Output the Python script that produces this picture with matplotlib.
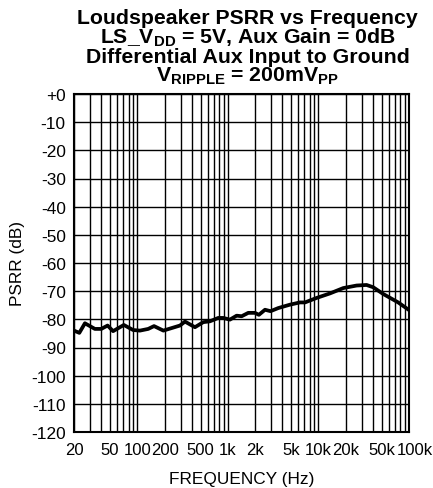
import matplotlib

matplotlib.use("Agg")
import matplotlib.pyplot as plt  # noqa: E402
import matplotlib.transforms as mtransforms  # noqa: E402
import numpy as np  # noqa: E402
from matplotlib.ticker import FixedLocator, LogLocator, NullFormatter  # noqa: E402

plt.rcParams["font.family"] = ["Liberation Sans", "DejaVu Sans"]
plt.rcParams["mathtext.fontset"] = "custom"
plt.rcParams["mathtext.rm"] = "Liberation Sans:bold"
plt.rcParams["mathtext.bf"] = "Liberation Sans:bold"
plt.rcParams["mathtext.it"] = "Liberation Sans:bold"

# curve
freq_hz = [20, 22.9, 26.4, 34, 40, 47, 54, 71, 90, 107, 132, 153, 194, 296, 336,
           433, 535, 634, 783, 890, 1054, 1250, 1420, 1680, 1990, 2200, 2570,
           2960, 3600, 4840, 6240, 7100, 9550, 13400, 18800, 26400, 34000,
           40200, 51900, 76000, 100000]
psrr_db = [-84.0, -84.8, -81.4, -83.4, -83.4, -82.2, -84.2, -82.0, -83.8, -84.0,
           -83.4, -82.4, -84.0, -82.2, -80.8, -82.8, -81.0, -80.7, -79.5, -79.5,
           -80.1, -78.7, -78.9, -77.7, -77.7, -78.4, -76.6, -77.1, -76.0, -74.8,
           -74.0, -74.0, -72.4, -70.8, -68.9, -68.0, -67.8, -68.6, -71.0, -74.0,
           -76.7]

x_ticks = [20, 50, 100, 200, 500, 1000, 2000, 5000, 10000, 20000, 50000, 100000]
x_labels = ["20", "50", "100", "200", "500", "1k", "2k", "5k", "10k", "20k", "50k", "100k"]
y_ticks = list(range(-120, 1, 10))
y_labels = ["+0" if v == 0 else str(v) for v in y_ticks]

title_lines = [
    "Loudspeaker PSRR vs Frequency",
    r"LS_V$_{\mathbf{DD}}$ = 5V, Aux Gain = 0dB",
    "Differential Aux Input to Ground",
    r"V$_{\mathbf{RIPPLE}}$ = 200mV$_{\mathbf{PP}}$",
]

fig = plt.figure(figsize=(4.33, 4.89), dpi=100)
ax = fig.add_axes([74 / 433, 1 - 433 / 489, 335 / 433, 338 / 489])

ax.plot(freq_hz, psrr_db, color="black", lw=2.7, solid_joinstyle="round", zorder=3)

ax.set_xscale("log")
ax.set_xlim(20, 100000)
ax.set_ylim(-120, 0)
ax.xaxis.set_major_locator(FixedLocator(x_ticks))
ax.set_xticklabels(x_labels)
ax.xaxis.set_minor_locator(LogLocator(base=10, subs=np.arange(1, 10), numticks=20))
ax.xaxis.set_minor_formatter(NullFormatter())
ax.set_yticks(y_ticks)
ax.set_yticklabels(y_labels)

ax.grid(which="both", axis="x", color="black", lw=1.0)
ax.grid(which="major", axis="y", color="black", lw=1.0)
ax.tick_params(which="both", length=0)
ax.tick_params(axis="y", pad=6, labelsize=12.4)
ax.tick_params(axis="x", pad=7, labelsize=12)
for spine in ax.spines.values():
    spine.set_linewidth(1.5)

# the last frequency label sits a little right of its grid line, as in the original
last = ax.get_xticklabels()[-1]
last.set_transform(last.get_transform() + mtransforms.ScaledTranslation(6 / 100, 0, fig.dpi_scale_trans))

ax.set_xlabel("FREQUENCY (Hz)", fontsize=12.4, labelpad=10)
ax.set_ylabel("PSRR (dB)", fontsize=12.4, labelpad=4)

for i, line in enumerate(title_lines):
    fig.text(0.572, 1 - (24 + 19.3 * i) / 489, line, ha="center", va="baseline",
             fontsize=15.3, fontweight="bold")

fig.savefig("out.png", dpi=100)
